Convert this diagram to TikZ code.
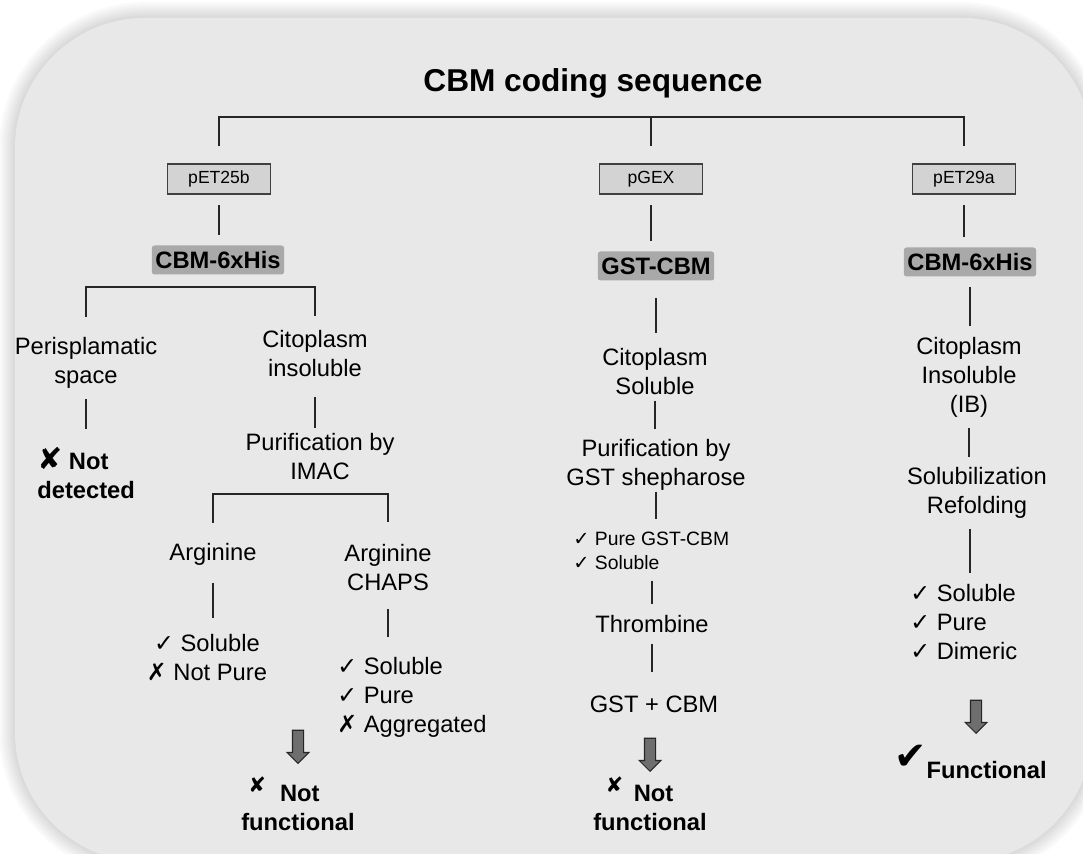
\documentclass[tikz,border=0pt]{standalone}
\usepackage{fontspec}
\setmainfont{Liberation Sans}
\newfontfamily\dejavu{DejaVu Sans}
\usepackage{tikz}
\usetikzlibrary{shapes.arrows}

\definecolor{panel}{HTML}{E8E8E8}
\definecolor{labelhl}{HTML}{A9A9A9}
\definecolor{vecbox}{HTML}{D3D3D3}
\definecolor{arrowgrey}{HTML}{6E6E6E}

\newcommand{\bodyfont}{\fontsize{13.5}{16.5}\selectfont}
\newcommand{\chkyes}{{\dejavu ✓}}
\newcommand{\chkno}{{\dejavu ✗}}
\newcommand{\bigx}{{\dejavu\fontsize{17}{17}\selectfont ✘}}
\newcommand{\smallx}{\raisebox{5pt}{\dejavu\fontsize{12}{12}\selectfont ✘}}
\newcommand{\bigcheck}{{\dejavu\fontsize{22}{22}\selectfont ✔}}

\tikzset{
  txt/.style={align=center, inner sep=0pt, font=\bodyfont},
  fail/.style={txt, font=\bodyfont\bfseries},
  note/.style={align=left, inner sep=0pt, font=\fontsize{11}{13.7}\selectfont},
  title/.style={inner sep=0pt, font=\fontsize{18}{22}\selectfont\bfseries},
  vector/.style={draw=black!75, line width=0.6pt, fill=vecbox, inner sep=0pt,
    minimum width=2.06cm, minimum height=0.6cm, font=\fontsize{10}{12}\selectfont},
  construct/.style={fill=labelhl, rounded corners=1.5pt, inner xsep=2pt, inner ysep=0pt,
    minimum height=0.58cm, font=\bodyfont\bfseries},
  bar/.style={draw=black!85, line width=1.1pt},
  stem/.style={bar, shorten <=6pt, shorten >=6pt},
  bigarrow/.style={single arrow, shape border rotate=270, draw=black!85, line width=0.6pt,
    fill=arrowgrey, inner sep=0.1cm, minimum width=0.41cm, minimum height=0.66cm,
    single arrow head extend=0.105cm}
}

\begin{document}
\begin{tikzpicture}[x=0.02cm, y=-0.02cm]
  \useasboundingbox (0,0) rectangle (1083,854);

  % rounded panel with a soft shadow
  \begin{scope}
    \clip (0,0) rectangle (1083,854);
    \fill[white] (0,0) rectangle (1083,854);
    \foreach \w in {3,6,...,18}
      \draw[black, opacity=0.025, line width=\w pt, rounded corners=2.6cm] (15,18) rectangle (1092,862);
    \fill[panel, rounded corners=2.6cm] (15,18) rectangle (1092,862);
  \end{scope}

  \node[title] (title) at (593,83) {CBM coding sequence};

  % vectors
  \node[vector] (vecL) at (219,179) {pET25b};
  \node[vector] (vecM) at (651,179) {pGEX};
  \node[vector] (vecR) at (964,179) {pET29a};

  \coordinate (split) at (651,117);
  \draw[bar] ([yshift=0.34cm]vecL.north) |- (split) -| ([yshift=0.34cm]vecR.north);
  \draw[bar] (split) -- ([yshift=0.34cm]vecM.north);

  % constructs
  \node[construct] (hisL) at (218,260) {CBM-6xHis};
  \node[construct] (gst) at (656,266) {GST-CBM};
  \node[construct] (hisR) at (970,262) {CBM-6xHis};

  \draw[stem] (vecL.south) -- (vecL.south |- hisL.north);
  \draw[stem] (vecM.south) -- (vecM.south |- gst.north);
  \draw[stem] (vecR.south) -- (vecR.south |- hisR.north);

  % pET25b branch
  \node[txt] (peri) at (86,363) {Perisplamatic\\space};
  \node[txt] (citoL) at (315,354) {Citoplasm\\insoluble};
  \coordinate (forkL) at (218,287);
  \draw[bar] ([yshift=0.4cm]peri.north) |- (forkL) -| ([yshift=0.28cm]citoL.north);

  \node[fail, align=left, anchor=west] (notdet) at (37,473) {\bigx\ Not\\detected};
  \draw[stem, shorten >=10.5pt] (peri.south) -- (peri.south |- notdet.north);

  \node[txt] (purL) at (320,457) {Purification by\\IMAC};
  \draw[stem, shorten <=11pt, shorten >=3pt] (citoL.south) -- (citoL.south |- purL.north);

  \node[txt] (arg) at (213,554) {Arginine};
  \node[txt] (argch) at (388,568) {Arginine\\CHAPS};
  \coordinate (forkI) at (303,494);
  \draw[bar] ([yshift=0.4cm]arg.north) |- (forkI) -| ([yshift=0.44cm]argch.north);

  \node[txt] (resA) at (207,658) {\chkyes\ Soluble\\\chkno\ Not Pure};
  \node[txt, align=left, anchor=west] (resB) at (337,697) {\chkyes\ Soluble\\\chkyes\ Pure\\\chkno\ Aggregated};
  \draw[stem, shorten <=10pt, shorten >=9.4pt] (arg.south) -- (arg.south |- resA.north);
  \draw[stem, shorten <=10pt, shorten >=11pt] (argch.south) -- (argch.south |- resB.north);

  \node[bigarrow] (arrL) at (298,744) {};
  \node[fail, align=left] (nfL) at (298,804) {\hspace{4pt}\smallx\hspace{8pt}Not\\functional};

  % pGEX branch
  \node[txt] (citoM) at (655,372) {Citoplasm\\Soluble};
  \node[txt] (purM) at (656,465) {Purification by\\GST shepharose};
  \node[note, anchor=west] (pureM) at (573,551) {\chkyes\ Pure GST-CBM\\\chkyes\ Soluble};
  \node[txt] (thr) at (652,624) {Thrombine};
  \node[txt] (cleave) at (654,704) {GST + CBM};

  \draw[stem, shorten <=10pt, shorten >=9pt] (gst.south) -- (gst.south |- citoM.north);
  \draw[stem, shorten <=3pt] (citoM.south) -- (citoM.south |- purM.north);
  \draw[stem, shorten <=0.5pt, shorten >=7pt] (purM.south) -- (purM.south |- pureM.north);
  \draw[stem] (thr.north |- pureM.south) -- (thr.north);
  \draw[stem, shorten >=13pt] (thr.south) -- (thr.south |- cleave.north);

  \node[bigarrow] (arrM) at (650,752) {};
  \node[fail, align=left] (nfM) at (650,804) {\hspace{7pt}\smallx\hspace{6pt}Not\\functional};

  % pET29a branch
  \node[txt] (citoR) at (969,377) {Citoplasm\\Insoluble\\(IB)};
  \node[txt] (solR) at (977,493) {Solubilization\\Refolding};
  \node[txt, align=left, anchor=west] (resR) at (910,622) {\chkyes\ Soluble\\\chkyes\ Pure\\\chkyes\ Dimeric};

  \draw[stem] (hisR.south) -- (hisR.south |- citoR.north);
  \draw[stem] (citoR.south) -- (citoR.south |- solR.north);
  \draw[stem] (solR.south -| hisR) -- (hisR |- resR.north);

  \node[bigarrow] (arrR) at (976,714) {};
  \node[fail, anchor=west] (func) at (894,762) {\raisebox{5pt}{\bigcheck}Functional};
\end{tikzpicture}
\end{document}
